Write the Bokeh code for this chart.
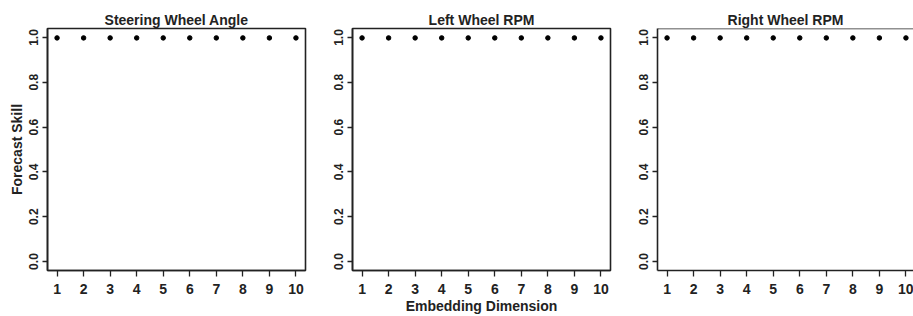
from bokeh.plotting import figure
from bokeh.layouts import row
from bokeh.models import FixedTicker, PrintfTickFormatter, Span, Range1d
from bokeh.embed import file_html
from bokeh.resources import INLINE

# ---- data ----
embedding_dims = [1, 2, 3, 4, 5, 6, 7, 8, 9, 10]
steering_skill = [0.998, 0.998, 0.998, 0.998, 0.998, 0.998, 0.998, 0.998, 0.998, 0.998]
left_rpm_skill = [0.998, 0.998, 0.998, 0.998, 0.998, 0.998, 0.998, 0.998, 0.998, 0.998]
right_rpm_skill = [0.998, 0.998, 0.998, 0.998, 0.998, 0.998, 0.998, 0.998, 0.998, 0.998]
panel_titles = ["Steering Wheel Angle", "Left Wheel RPM", "Right Wheel RPM"]
y_ticks = [0.0, 0.2, 0.4, 0.6, 0.8, 1.0]
x_label = "Embedding Dimension"
y_label = "Forecast Skill"

FONT = "Liberation Sans"
INK = "#222222"
H = 316
TOP = 28
FRAME_H = 243
FRAME_W = 258
X_START, X_END = 0.64, 10.36
UNIT = FRAME_W / (X_END - X_START)


def make_panel(title, values, width, border_left, border_right, frame_w,
               outline=True, xlab=None, ylab=None):
    x_end = X_START + frame_w / UNIT
    p = figure(width=width, height=H, output_backend="svg", toolbar_location=None,
               x_range=Range1d(X_START, x_end), y_range=Range1d(-0.04, 1.04),
               min_border_left=border_left, min_border_right=border_right,
               min_border_top=TOP, min_border_bottom=H - TOP - FRAME_H)
    p.grid.visible = False
    p.background_fill_color = "white"
    p.border_fill_color = "white"
    if outline:
        p.outline_line_color = INK
        p.outline_line_width = 1.6
        p.outline_line_alpha = 1.0
    else:
        p.outline_line_color = None
        p.add_layout(Span(location=1.04, dimension="width", line_color=INK, line_width=1.6))

    p.title.text = title
    p.title.align = "center"
    p.title.text_font = FONT
    p.title.text_font_size = "14px"
    p.title.text_font_style = "bold"
    p.title.text_color = INK
    p.title.standoff = 2

    xa = p.xaxis[0]
    xa.ticker = FixedTicker(ticks=embedding_dims)
    xa.major_tick_out = 6
    xa.major_tick_in = 0
    xa.minor_tick_line_color = None
    xa.major_label_standoff = 7
    xa.major_label_text_font = FONT
    xa.major_label_text_font_size = "14px"
    xa.major_label_text_font_style = "bold"
    xa.major_label_text_color = INK
    xa.axis_line_color = INK
    xa.axis_line_width = 1.6
    xa.major_tick_line_color = INK
    xa.major_tick_line_width = 1.3
    if xlab:
        xa.axis_label = xlab
        xa.axis_label_standoff = 1
        xa.axis_label_text_font = FONT
        xa.axis_label_text_font_size = "14px"
        xa.axis_label_text_font_style = "bold"
        xa.axis_label_text_color = INK

    ya = p.yaxis[0]
    ya.ticker = FixedTicker(ticks=y_ticks)
    ya.formatter = PrintfTickFormatter(format="%.1f")
    ya.major_label_orientation = "vertical"
    ya.major_tick_out = 5
    ya.major_tick_in = 0
    ya.minor_tick_line_color = None
    ya.major_label_standoff = 4
    ya.major_label_text_font = FONT
    ya.major_label_text_font_size = "12px"
    ya.major_label_text_font_style = "bold"
    ya.major_label_text_color = INK
    ya.axis_line_color = INK
    ya.axis_line_width = 1.6
    ya.major_tick_line_color = INK
    ya.major_tick_line_width = 1.3
    if ylab:
        ya.axis_label = ylab
        ya.axis_label_standoff = 2
        ya.axis_label_text_font = FONT
        ya.axis_label_text_font_size = "14px"
        ya.axis_label_text_font_style = "bold"
        ya.axis_label_text_color = INK

    p.scatter(embedding_dims, values, size=4.5, color="black")
    return p


p1 = make_panel(panel_titles[0], steering_skill, 313, 47, 8, FRAME_W, ylab=y_label)
p2 = make_panel(panel_titles[1], left_rpm_skill, 305, 39, 8, FRAME_W, xlab=x_label)
p3 = make_panel(panel_titles[2], right_rpm_skill, 295, 39, 0, 256, outline=False)

layout = row(p1, p2, p3)
open("out.html", "w").write(file_html(layout, INLINE))
